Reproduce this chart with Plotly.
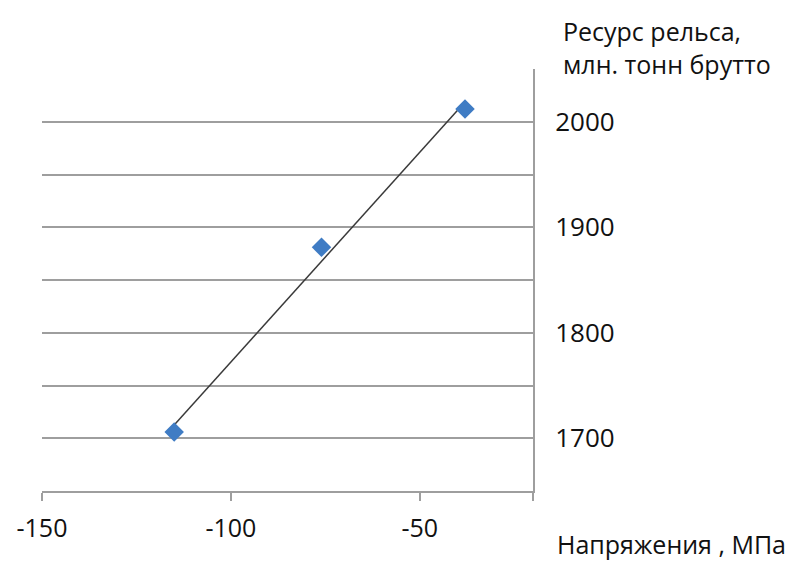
import numpy as np
import plotly.graph_objects as go

# Stress (MPa) vs. rail life (million gross tonnes)
stress_mpa = [-115, -76, -38]
rail_life = [1706, 1881, 2012]

x_tick_vals = [-150, -100, -50, -20]
x_tick_text = ["-150", "-100", "-50", ""]
y_tick_vals = [1650, 1700, 1750, 1800, 1850, 1900, 1950, 2000, 2050]
y_tick_text = ["", "1700", "", "1800", "", "1900", "", "2000", ""]

y_title = "Ресурс рельса,<br>млн. тонн брутто"
x_title = "Напряжения , МПа"

FONT = "Open Sans"
GRID = "#9E9E9E"
TEXT = "#111111"

# linear trend over the measured range
slope, intercept = np.polyfit(stress_mpa, rail_life, 1)
trend_x = np.array([min(stress_mpa), max(stress_mpa)])
trend_y = slope * trend_x + intercept

fig = go.Figure()
fig.add_trace(go.Scatter(
    x=trend_x, y=trend_y, mode="lines",
    line=dict(color="#3A3A3A", width=1.5),
    hoverinfo="skip", showlegend=False,
))
fig.add_trace(go.Scatter(
    x=stress_mpa, y=rail_life, mode="markers",
    marker=dict(symbol="diamond", size=15, color="#3F7CC4",
                line=dict(width=0)),
    showlegend=False,
))

fig.update_layout(
    width=811, height=564,
    margin=dict(l=42, r=278, t=69, b=73),
    paper_bgcolor="white", plot_bgcolor="white",
    font=dict(family=FONT, size=26, color=TEXT),
    xaxis=dict(
        range=[-150, -20], tickmode="array",
        tickvals=x_tick_vals, ticktext=x_tick_text,
        showgrid=False, zeroline=False,
        showline=True, linecolor=GRID, linewidth=2,
        ticks="outside", ticklen=8, tickwidth=2, tickcolor=GRID,
        tickfont=dict(family=FONT, size=25, color=TEXT),
        ticklabelstandoff=6,
    ),
    yaxis=dict(
        range=[1650, 2050], side="right", tickmode="array",
        tickvals=y_tick_vals, ticktext=y_tick_text,
        showgrid=True, gridcolor=GRID, gridwidth=2,
        zeroline=False,
        showline=True, linecolor=GRID, linewidth=2,
        ticks="", tickfont=dict(family=FONT, size=26, color=TEXT),
        ticklabelstandoff=15,
    ),
    annotations=[
        dict(text=y_title, xref="paper", yref="paper",
             x=1.057, y=1.052, xanchor="left", yanchor="middle",
             showarrow=False, align="left",
             font=dict(family=FONT, size=25, color=TEXT)),
        dict(text=x_title, xref="paper", yref="paper",
             x=1.045, y=-0.126, xanchor="left", yanchor="middle",
             showarrow=False, align="left",
             font=dict(family=FONT, size=25, color=TEXT)),
    ],
)

fig.write_html("out.html")
